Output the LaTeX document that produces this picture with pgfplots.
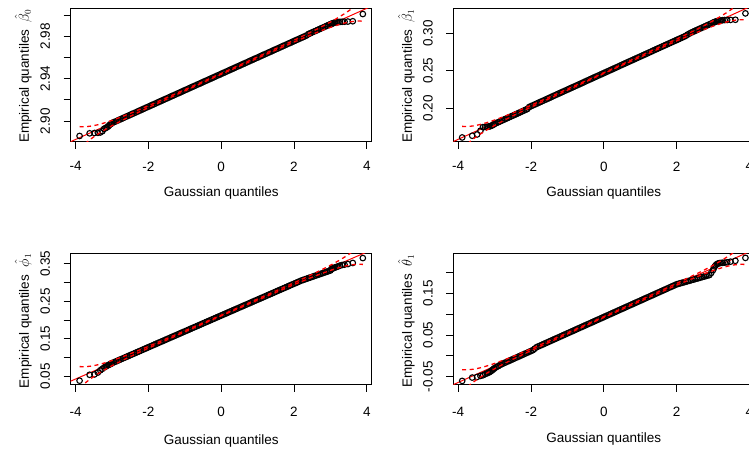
\documentclass[border=0pt]{standalone}
\usepackage{fontspec}
\setmainfont{Liberation Sans}
\usepackage{pgfplots}
\pgfplotsset{compat=1.18}
\usepackage{pgfplotstable}

\pgfplotstableread{
z y
-3.891 2.8860
-3.615 2.8885
-3.481 2.8888
-3.389 2.8890
-3.322 2.8893
-3.264 2.8905
-3.216 2.8928
-3.175 2.8935
-3.138 2.8942
-3.106 2.8950
-3.075 2.8962
-3.047 2.8970
-3.023 2.8975
-3.00 2.8982
-2.95 2.8990
-2.90 2.8997
-2.85 2.9005
-2.80 2.9013
-2.75 2.9020
-2.70 2.9028
-2.65 2.9036
-2.60 2.9044
-2.55 2.9051
-2.50 2.9059
-2.45 2.9067
-2.40 2.9074
-2.35 2.9082
-2.30 2.9090
-2.25 2.9098
-2.20 2.9105
-2.15 2.9113
-2.10 2.9121
-2.05 2.9129
-2.00 2.9136
-1.95 2.9144
-1.90 2.9152
-1.85 2.9159
-1.80 2.9167
-1.75 2.9175
-1.70 2.9183
-1.65 2.9190
-1.60 2.9198
-1.55 2.9206
-1.50 2.9213
-1.45 2.9221
-1.40 2.9229
-1.35 2.9237
-1.30 2.9244
-1.25 2.9252
-1.20 2.9260
-1.15 2.9267
-1.10 2.9275
-1.05 2.9283
-1.00 2.9291
-0.95 2.9298
-0.90 2.9306
-0.85 2.9314
-0.80 2.9322
-0.75 2.9329
-0.70 2.9337
-0.65 2.9345
-0.60 2.9352
-0.55 2.9360
-0.50 2.9368
-0.45 2.9376
-0.40 2.9383
-0.35 2.9391
-0.30 2.9399
-0.25 2.9406
-0.20 2.9414
-0.15 2.9422
-0.10 2.9430
-0.05 2.9437
0.00 2.9445
0.05 2.9453
0.10 2.9460
0.15 2.9468
0.20 2.9476
0.25 2.9484
0.30 2.9491
0.35 2.9499
0.40 2.9507
0.45 2.9515
0.50 2.9522
0.55 2.9530
0.60 2.9538
0.65 2.9545
0.70 2.9553
0.75 2.9561
0.80 2.9569
0.85 2.9576
0.90 2.9584
0.95 2.9592
1.00 2.9599
1.05 2.9607
1.10 2.9615
1.15 2.9623
1.20 2.9630
1.25 2.9638
1.30 2.9646
1.35 2.9653
1.40 2.9661
1.45 2.9669
1.50 2.9677
1.55 2.9684
1.60 2.9692
1.65 2.9700
1.70 2.9708
1.75 2.9715
1.80 2.9723
1.85 2.9731
1.90 2.9738
1.95 2.9746
2.00 2.9754
2.05 2.9762
2.10 2.9769
2.15 2.9777
2.20 2.9785
2.25 2.9792
2.30 2.9800
2.35 2.9808
2.40 2.9821
2.45 2.9828
2.50 2.9836
2.55 2.9844
2.60 2.9851
2.65 2.9859
2.70 2.9867
2.75 2.9875
2.80 2.9882
2.85 2.9890
2.90 2.9898
2.95 2.9906
3.00 2.9913
3.023 2.9915
3.047 2.9919
3.075 2.9923
3.106 2.9927
3.138 2.9930
3.175 2.9932
3.216 2.9934
3.264 2.9935
3.322 2.9936
3.389 2.9937
3.481 2.9938
3.615 2.9941
3.891 3.0009
}\ptsA

\pgfplotstableread{
z y
-3.891 0.1610
-3.615 0.1633
-3.481 0.1650
-3.389 0.1700
-3.322 0.1748
-3.264 0.1750
-3.216 0.1752
-3.175 0.1755
-3.138 0.1758
-3.106 0.1763
-3.075 0.1770
-3.047 0.1778
-3.023 0.1785
-3.00 0.1792
-2.95 0.1803
-2.90 0.1814
-2.85 0.1825
-2.80 0.1836
-2.75 0.1847
-2.70 0.1858
-2.65 0.1869
-2.60 0.1880
-2.55 0.1891
-2.50 0.1902
-2.45 0.1913
-2.40 0.1924
-2.35 0.1935
-2.30 0.1946
-2.25 0.1958
-2.20 0.1969
-2.15 0.1980
-2.10 0.1991
-2.05 0.2017
-2.00 0.2028
-1.95 0.2039
-1.90 0.2050
-1.85 0.2061
-1.80 0.2072
-1.75 0.2083
-1.70 0.2094
-1.65 0.2105
-1.60 0.2116
-1.55 0.2127
-1.50 0.2138
-1.45 0.2149
-1.40 0.2161
-1.35 0.2172
-1.30 0.2183
-1.25 0.2194
-1.20 0.2205
-1.15 0.2216
-1.10 0.2227
-1.05 0.2238
-1.00 0.2249
-0.95 0.2260
-0.90 0.2271
-0.85 0.2282
-0.80 0.2293
-0.75 0.2304
-0.70 0.2315
-0.65 0.2326
-0.60 0.2337
-0.55 0.2348
-0.50 0.2360
-0.45 0.2371
-0.40 0.2382
-0.35 0.2393
-0.30 0.2404
-0.25 0.2415
-0.20 0.2426
-0.15 0.2437
-0.10 0.2448
-0.05 0.2459
0.00 0.2470
0.05 0.2481
0.10 0.2492
0.15 0.2503
0.20 0.2514
0.25 0.2525
0.30 0.2536
0.35 0.2547
0.40 0.2558
0.45 0.2570
0.50 0.2581
0.55 0.2592
0.60 0.2603
0.65 0.2614
0.70 0.2625
0.75 0.2636
0.80 0.2647
0.85 0.2658
0.90 0.2669
0.95 0.2680
1.00 0.2691
1.05 0.2702
1.10 0.2713
1.15 0.2724
1.20 0.2735
1.25 0.2746
1.30 0.2757
1.35 0.2769
1.40 0.2780
1.45 0.2791
1.50 0.2802
1.55 0.2813
1.60 0.2824
1.65 0.2835
1.70 0.2846
1.75 0.2857
1.80 0.2868
1.85 0.2879
1.90 0.2890
1.95 0.2901
2.00 0.2912
2.05 0.2923
2.10 0.2934
2.15 0.2945
2.20 0.2956
2.25 0.2968
2.30 0.2984
2.35 0.2998
2.40 0.3011
2.45 0.3022
2.50 0.3033
2.55 0.3044
2.60 0.3055
2.65 0.3066
2.70 0.3077
2.75 0.3088
2.80 0.3099
2.85 0.3110
2.90 0.3121
2.95 0.3132
3.00 0.3143
3.023 0.3148
3.047 0.3153
3.075 0.3158
3.106 0.3163
3.138 0.3167
3.175 0.3171
3.216 0.3174
3.264 0.3177
3.322 0.3179
3.389 0.3180
3.481 0.3181
3.615 0.3183
3.891 0.3268
}\ptsB

\pgfplotstableread{
z y
-3.891 0.0383
-3.615 0.0540
-3.481 0.0550
-3.389 0.0600
-3.322 0.0660
-3.264 0.0700
-3.216 0.0735
-3.175 0.0760
-3.138 0.0780
-3.106 0.0796
-3.075 0.0812
-3.047 0.0826
-3.023 0.0838
-3.00 0.0851
-2.95 0.0872
-2.90 0.0893
-2.85 0.0915
-2.80 0.0936
-2.75 0.0957
-2.70 0.0978
-2.65 0.0999
-2.60 0.1020
-2.55 0.1041
-2.50 0.1063
-2.45 0.1084
-2.40 0.1105
-2.35 0.1126
-2.30 0.1147
-2.25 0.1168
-2.20 0.1189
-2.15 0.1211
-2.10 0.1232
-2.05 0.1253
-2.00 0.1274
-1.95 0.1295
-1.90 0.1316
-1.85 0.1338
-1.80 0.1359
-1.75 0.1380
-1.70 0.1401
-1.65 0.1422
-1.60 0.1443
-1.55 0.1464
-1.50 0.1486
-1.45 0.1507
-1.40 0.1528
-1.35 0.1549
-1.30 0.1570
-1.25 0.1591
-1.20 0.1612
-1.15 0.1634
-1.10 0.1655
-1.05 0.1676
-1.00 0.1697
-0.95 0.1718
-0.90 0.1739
-0.85 0.1761
-0.80 0.1782
-0.75 0.1803
-0.70 0.1824
-0.65 0.1845
-0.60 0.1866
-0.55 0.1887
-0.50 0.1909
-0.45 0.1930
-0.40 0.1951
-0.35 0.1972
-0.30 0.1993
-0.25 0.2014
-0.20 0.2035
-0.15 0.2057
-0.10 0.2078
-0.05 0.2099
0.00 0.2120
0.05 0.2141
0.10 0.2162
0.15 0.2183
0.20 0.2205
0.25 0.2226
0.30 0.2247
0.35 0.2268
0.40 0.2289
0.45 0.2310
0.50 0.2332
0.55 0.2353
0.60 0.2374
0.65 0.2395
0.70 0.2416
0.75 0.2437
0.80 0.2458
0.85 0.2480
0.90 0.2501
0.95 0.2522
1.00 0.2543
1.05 0.2564
1.10 0.2585
1.15 0.2606
1.20 0.2628
1.25 0.2649
1.30 0.2670
1.35 0.2691
1.40 0.2712
1.45 0.2733
1.50 0.2755
1.55 0.2776
1.60 0.2797
1.65 0.2818
1.70 0.2839
1.75 0.2860
1.80 0.2881
1.85 0.2903
1.90 0.2924
1.95 0.2945
2.00 0.2966
2.05 0.2987
2.10 0.3008
2.15 0.3029
2.20 0.3051
2.25 0.3067
2.30 0.3084
2.35 0.3101
2.40 0.3118
2.45 0.3134
2.50 0.3151
2.55 0.3168
2.60 0.3185
2.65 0.3202
2.70 0.3218
2.75 0.3235
2.80 0.3252
2.85 0.3269
2.90 0.3285
2.95 0.3302
3.00 0.3319
3.023 0.3358
3.047 0.3367
3.075 0.3379
3.106 0.3391
3.138 0.3404
3.175 0.3415
3.216 0.3430
3.264 0.3450
3.322 0.3465
3.389 0.3475
3.481 0.3490
3.615 0.3520
3.891 0.3650
}\ptsC

\pgfplotstableread{
z y
-3.891 -0.0600
-3.615 -0.0520
-3.481 -0.0505
-3.389 -0.0480
-3.322 -0.0465
-3.264 -0.0440
-3.216 -0.0420
-3.175 -0.0405
-3.138 -0.0388
-3.106 -0.0370
-3.075 -0.0350
-3.047 -0.0330
-3.023 -0.0310
-3.00 -0.0295
-2.95 -0.0266
-2.90 -0.0246
-2.85 -0.0217
-2.80 -0.0197
-2.75 -0.0177
-2.70 -0.0158
-2.65 -0.0138
-2.60 -0.0119
-2.55 -0.0099
-2.50 -0.0080
-2.45 -0.0060
-2.40 -0.0040
-2.35 -0.0021
-2.30 -0.0001
-2.25 0.0018
-2.20 0.0038
-2.15 0.0058
-2.10 0.0077
-2.05 0.0097
-2.00 0.0116
-1.95 0.0136
-1.90 0.0170
-1.85 0.0205
-1.80 0.0225
-1.75 0.0244
-1.70 0.0264
-1.65 0.0283
-1.60 0.0303
-1.55 0.0322
-1.50 0.0342
-1.45 0.0362
-1.40 0.0381
-1.35 0.0401
-1.30 0.0420
-1.25 0.0440
-1.20 0.0459
-1.15 0.0479
-1.10 0.0499
-1.05 0.0518
-1.00 0.0538
-0.95 0.0557
-0.90 0.0577
-0.85 0.0596
-0.80 0.0616
-0.75 0.0636
-0.70 0.0655
-0.65 0.0675
-0.60 0.0694
-0.55 0.0714
-0.50 0.0733
-0.45 0.0753
-0.40 0.0772
-0.35 0.0792
-0.30 0.0812
-0.25 0.0831
-0.20 0.0851
-0.15 0.0870
-0.10 0.0890
-0.05 0.0909
0.00 0.0929
0.05 0.0949
0.10 0.0968
0.15 0.0988
0.20 0.1007
0.25 0.1027
0.30 0.1046
0.35 0.1066
0.40 0.1086
0.45 0.1105
0.50 0.1125
0.55 0.1144
0.60 0.1164
0.65 0.1183
0.70 0.1203
0.75 0.1223
0.80 0.1242
0.85 0.1262
0.90 0.1281
0.95 0.1301
1.00 0.1320
1.05 0.1340
1.10 0.1360
1.15 0.1379
1.20 0.1399
1.25 0.1418
1.30 0.1438
1.35 0.1457
1.40 0.1477
1.45 0.1497
1.50 0.1516
1.55 0.1536
1.60 0.1555
1.65 0.1575
1.70 0.1594
1.75 0.1614
1.80 0.1634
1.85 0.1653
1.90 0.1673
1.95 0.1692
2.00 0.1712
2.05 0.1724
2.10 0.1737
2.15 0.1749
2.20 0.1761
2.25 0.1774
2.30 0.1786
2.35 0.1798
2.40 0.1811
2.45 0.1823
2.50 0.1835
2.55 0.1848
2.60 0.1860
2.65 0.1872
2.70 0.1885
2.75 0.1897
2.80 0.1909
2.85 0.1922
2.90 0.1934
2.95 0.1984
3.00 0.2053
3.023 0.2100
3.047 0.2140
3.075 0.2170
3.106 0.2195
3.138 0.2210
3.175 0.2220
3.216 0.2225
3.264 0.2228
3.322 0.2232
3.389 0.2240
3.481 0.2255
3.615 0.2275
3.891 0.2345
}\ptsD

\pgfplotstableread{
z hi lo
-3.891 2.8948 2.8741
-3.75 2.8947 2.8785
-3.6 2.8952 2.8827
-3.5 2.8958 2.8852
-3.4 2.8965 2.8875
-3.25 2.8979 2.8907
-3.1 2.8995 2.8938
-3.0 2.9007 2.8957
-2.75 2.9039 2.9002
-2.5 2.9073 2.9045
-2.0 2.9145 2.9128
0 2.9449 2.9441
2.0 2.9762 2.9745
2.5 2.9845 2.9817
2.75 2.9888 2.9852
3.0 2.9933 2.9883
3.1 2.9952 2.9895
3.25 2.9983 2.9911
3.4 3.0015 2.9925
3.5 3.0038 2.9933
3.6 3.0063 2.9938
3.75 3.0105 2.9943
3.891 3.0150 2.9942
}\envA

\pgfplotstableread{
z hi lo
-3.891 0.1758 0.1461
-3.75 0.1757 0.1525
-3.6 0.1763 0.1585
-3.5 0.1772 0.1621
-3.4 0.1783 0.1654
-3.25 0.1803 0.1700
-3.1 0.1826 0.1743
-3.0 0.1843 0.1771
-2.75 0.1888 0.1836
-2.5 0.1937 0.1898
-2.0 0.2040 0.2016
0 0.2475 0.2465
2.0 0.2924 0.2900
2.5 0.3042 0.3003
2.75 0.3104 0.3052
3.0 0.3169 0.3097
3.1 0.3197 0.3114
3.25 0.3240 0.3137
3.4 0.3286 0.3157
3.5 0.3320 0.3168
3.6 0.3355 0.3177
3.75 0.3415 0.3184
3.891 0.3479 0.3182
}\envB

\pgfplotstableread{
z hi lo
-3.891 0.0758 0.0190
-3.75 0.0755 0.0313
-3.6 0.0768 0.0426
-3.5 0.0784 0.0495
-3.4 0.0805 0.0558
-3.25 0.0843 0.0647
-3.1 0.0888 0.0730
-3.0 0.0920 0.0782
-2.75 0.1007 0.0907
-2.5 0.1100 0.1025
-2.0 0.1297 0.1251
0 0.2130 0.2110
2.0 0.2989 0.2943
2.5 0.3215 0.3140
2.75 0.3333 0.3234
3.0 0.3458 0.3320
3.1 0.3510 0.3352
3.25 0.3593 0.3397
3.4 0.3682 0.3435
3.5 0.3745 0.3456
3.6 0.3814 0.3472
3.75 0.3927 0.3485
3.891 0.4050 0.3482
}\envC

\pgfplotstableread{
z hi lo
-3.891 -0.0331 -0.0857
-3.75 -0.0334 -0.0743
-3.6 -0.0322 -0.0638
-3.5 -0.0307 -0.0575
-3.4 -0.0288 -0.0516
-3.25 -0.0252 -0.0434
-3.1 -0.0211 -0.0357
-3.0 -0.0182 -0.0309
-2.75 -0.0101 -0.0193
-2.5 -0.0015 -0.0084
-2.0 0.0167 0.0125
0 0.0939 0.0919
2.0 0.1733 0.1691
2.5 0.1942 0.1873
2.75 0.2051 0.1959
3.0 0.2167 0.2040
3.1 0.2215 0.2069
3.25 0.2292 0.2110
3.4 0.2374 0.2146
3.5 0.2433 0.2165
3.6 0.2496 0.2180
3.75 0.2601 0.2192
3.891 0.2715 0.2189
}\envD

\pgfplotsset{
  qq/.style={
    scale only axis, width=301pt, height=133.2pt,
    xmin=-4.135, xmax=4.135,
    xtick={-4,-2,0,2,4}, xticklabels={-4,-2,0,2,4},
    tick pos=left, tick align=outside, major tick length=7pt,
    axis line style={line width=0.9pt, black},
    tick style={line width=0.9pt, black},
    tick label style={font=\fontsize{13.5}{16}\selectfont, black},
    xticklabel style={inner ysep=12.95pt},
    yticklabel style={rotate=90, anchor=south, inner ysep=13.45pt},
    clip=true, clip marker paths=true, anchor=south west,
  },
  qqlow/.style={xticklabel style={inner ysep=15.15pt}},
  pts/.style={only marks, mark=o, mark size=2.8pt, mark options={line width=1.1pt, black}},
  fitline/.style={red, line width=1pt, no marks},
  env/.style={red, line width=1.3pt, dash pattern=on 4pt off 3.5pt, no marks},
}

\begin{document}
\begin{tikzpicture}
\useasboundingbox (0pt,0pt) rectangle (749pt,448pt);

\begin{axis}[qq, at={(70.7pt,306.5pt)},
  ymin=2.8808, ymax=3.0063,
  ytick={2.90,2.92,2.94,2.96,2.98,3.00},
  yticklabels={2.90,{},2.94,{},2.98,{}}]
\addplot[fitline] coordinates {(-4.3,2.8781) (4.3,3.0109)};
\addplot[pts] table[x=z,y=y]{\ptsA};
\addplot[env] table[x=z,y=hi]{\envA};
\addplot[env] table[x=z,y=lo]{\envA};
\end{axis}

\begin{axis}[qq, at={(453.3pt,306.5pt)},
  ymin=0.1556, ymax=0.3336,
  ytick={0.20,0.25,0.30},
  yticklabels={0.20,0.25,0.30}]
\addplot[fitline] coordinates {(-4.3,0.1519) (4.3,0.3421)};
\addplot[pts] table[x=z,y=y]{\ptsB};
\addplot[env] table[x=z,y=hi]{\envB};
\addplot[env] table[x=z,y=lo]{\envB};
\end{axis}

\begin{axis}[qq, qqlow, at={(70.7pt,63.3pt)}, height=131.7pt,
  ymin=0.0276, ymax=0.3785,
  ytick={0.05,0.10,0.15,0.20,0.25,0.30,0.35},
  yticklabels={0.05,{},0.15,{},0.25,{},0.35}]
\addplot[fitline] coordinates {(-4.3,0.0301) (4.3,0.3939)};
\addplot[pts] table[x=z,y=y]{\ptsC};
\addplot[env] table[x=z,y=hi]{\envC};
\addplot[env] table[x=z,y=lo]{\envC};
\end{axis}

\begin{axis}[qq, qqlow, at={(453.3pt,63.3pt)}, height=131.7pt,
  ymin=-0.0691, ymax=0.2462,
  ytick={-0.05,0,0.05,0.10,0.15,0.20},
  yticklabels={-0.05,{},0.05,{},0.15,{}}]
\addplot[fitline] coordinates {(-4.3,-0.0754) (4.3,0.2612)};
\addplot[pts] table[x=z,y=y]{\ptsD};
\addplot[env] table[x=z,y=hi]{\envD};
\addplot[env] table[x=z,y=lo]{\envD};
\end{axis}

\begin{scope}[every node/.style={font=\fontsize{13.5}{16}\selectfont, black, inner sep=0pt}]
\node[anchor=base] at (221.2pt,251.2pt) {Gaussian quantiles};
\node[anchor=base] at (603.8pt,251.2pt) {Gaussian quantiles};
\node[anchor=base] at (221.2pt,3.4pt) {Gaussian quantiles};
\node[anchor=base] at (603.8pt,6pt) {Gaussian quantiles};
\node[rotate=90, anchor=base] at (28.8pt,372pt) {Empirical quantiles~ $\hat{\beta}_0$};
\node[rotate=90, anchor=base] at (411.8pt,372pt) {Empirical quantiles~ $\hat{\beta}_1$};
\node[rotate=90, anchor=base] at (28.8pt,127pt) {Empirical quantiles~ $\hat{\phi}_1$};
\node[rotate=90, anchor=base] at (411.8pt,127pt) {Empirical quantiles~ $\hat{\theta}_1$};
\end{scope}
\end{tikzpicture}
\end{document}
